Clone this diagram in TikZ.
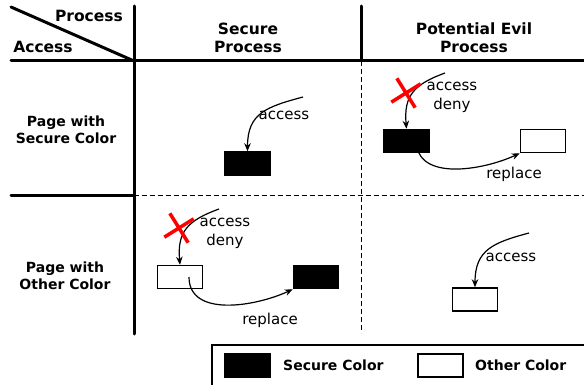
\documentclass[tikz,border=0pt]{standalone}
\usepackage{fontspec}
\setmainfont{DejaVu Sans}
\usetikzlibrary{arrows.meta,shapes.misc}

\begin{document}
\begin{tikzpicture}[x=1pt, y=-1pt,
	hd/.style={font=\fontsize{15.5}{18}\selectfont\bfseries, align=center, inner sep=0pt},
	rl/.style={font=\fontsize{14}{16.5}\selectfont\bfseries, align=center, inner sep=0pt},
	lbl/.style={font=\fontsize{15}{19}\selectfont, align=center, inner sep=0pt},
	sec/.style={draw, fill=black, line width=1.5pt, minimum width=45pt, minimum height=23pt, inner sep=0pt},
	oth/.style={sec, fill=white},
	bar/.style={line width=3pt, line cap=round},
	sep/.style={line width=1pt, dash pattern=on 5pt off 3pt},
	acc/.style={line width=1.2pt, -{Stealth[length=8pt, width=6.5pt]}},
	deny/.style={cross out, draw=red, line width=3.5pt, minimum size=21pt, inner sep=0pt, rotate=-13}]
	\clip (0,0) rectangle (584,385);
	\foreach \a/\b in {{(11,7)}/{(134,61)}, {(11,61)}/{(584,61)}, {(134,6)}/{(134,334)}, {(361,6)}/{(361,61)}, {(11,196)}/{(134,196)}} {\draw[bar] \a -- \b;}
	\draw[sep] (134,196) -- (584,196);
	\draw[sep] (361,61) -- (361,333);
	\node[hd] (proc) at (89,16) {Process};
	\node[hd] (accs) at (43,47) {Access};
	\node[hd] (colS) at (248,38) {Secure\\Process};
	\node[hd] (colE) at (474,38) {Potential Evil\\Process};
	\node[rl] (rowS) at (66,130) {Page with\\Secure Color};
	\node[rl] (rowO) at (65,276) {Page with\\Other Color};
	% secure process, secure page
	\node[sec] (b1) at (247.5,163.5) {};
	\coordinate (a1) at (303,97);
	\draw[acc] (a1) to[out=195, in=90, looseness=1.25] (b1.north);
	\node[lbl] (t1) at (284,115) {access};
	% evil process, secure page
	\node[sec] (b2) at (406.5,141) {};
	\node[oth] (o2) at (543,141) {};
	\coordinate (a2) at (445,73);
	\draw[acc] (a2) to[out=200, in=95, looseness=1.25] (b2.north);
	\node[deny] (x2) at (406,93) {};
	\node[lbl] (t2) at (452,97) {access\\deny};
	\draw[acc] ([xshift=10pt]b2.center) to[out=-90, in=205] (o2.south west);
	\node[lbl] (r2) at (514,174) {replace};
	% secure process, other page
	\node[oth] (w3) at (180,277) {};
	\node[sec] (b3) at (316,277) {};
	\coordinate (a3) at (219,209);
	\draw[acc] (a3) to[out=200, in=95, looseness=1.25] (w3.north);
	\node[deny] (x3) at (179,228) {};
	\node[lbl] (t3) at (225,233) {access\\deny};
	\draw[acc] ([xshift=9pt]w3.center) to[out=-90, in=205] (b3.south west);
	\node[lbl] (r3) at (270,320) {replace};
	% evil process, other page
	\node[oth] (w4) at (475,299.5) {};
	\coordinate (a4) at (529,233);
	\draw[acc] (a4) to[out=195, in=90, looseness=1.25] (w4.north);
	\node[lbl] (t4) at (511,257) {access};
	% legend
	\draw[line width=2pt] (212,345) rectangle (590,390);
	\node[sec] (lgS) at (247.5,365.5) {};
	\node[rl, anchor=west] (lgSt) at (283,365) {Secure Color};
	\node[oth] (lgO) at (440.5,365.5) {};
	\node[rl, anchor=west] (lgOt) at (475,365) {Other Color};
\end{tikzpicture}
\end{document}
